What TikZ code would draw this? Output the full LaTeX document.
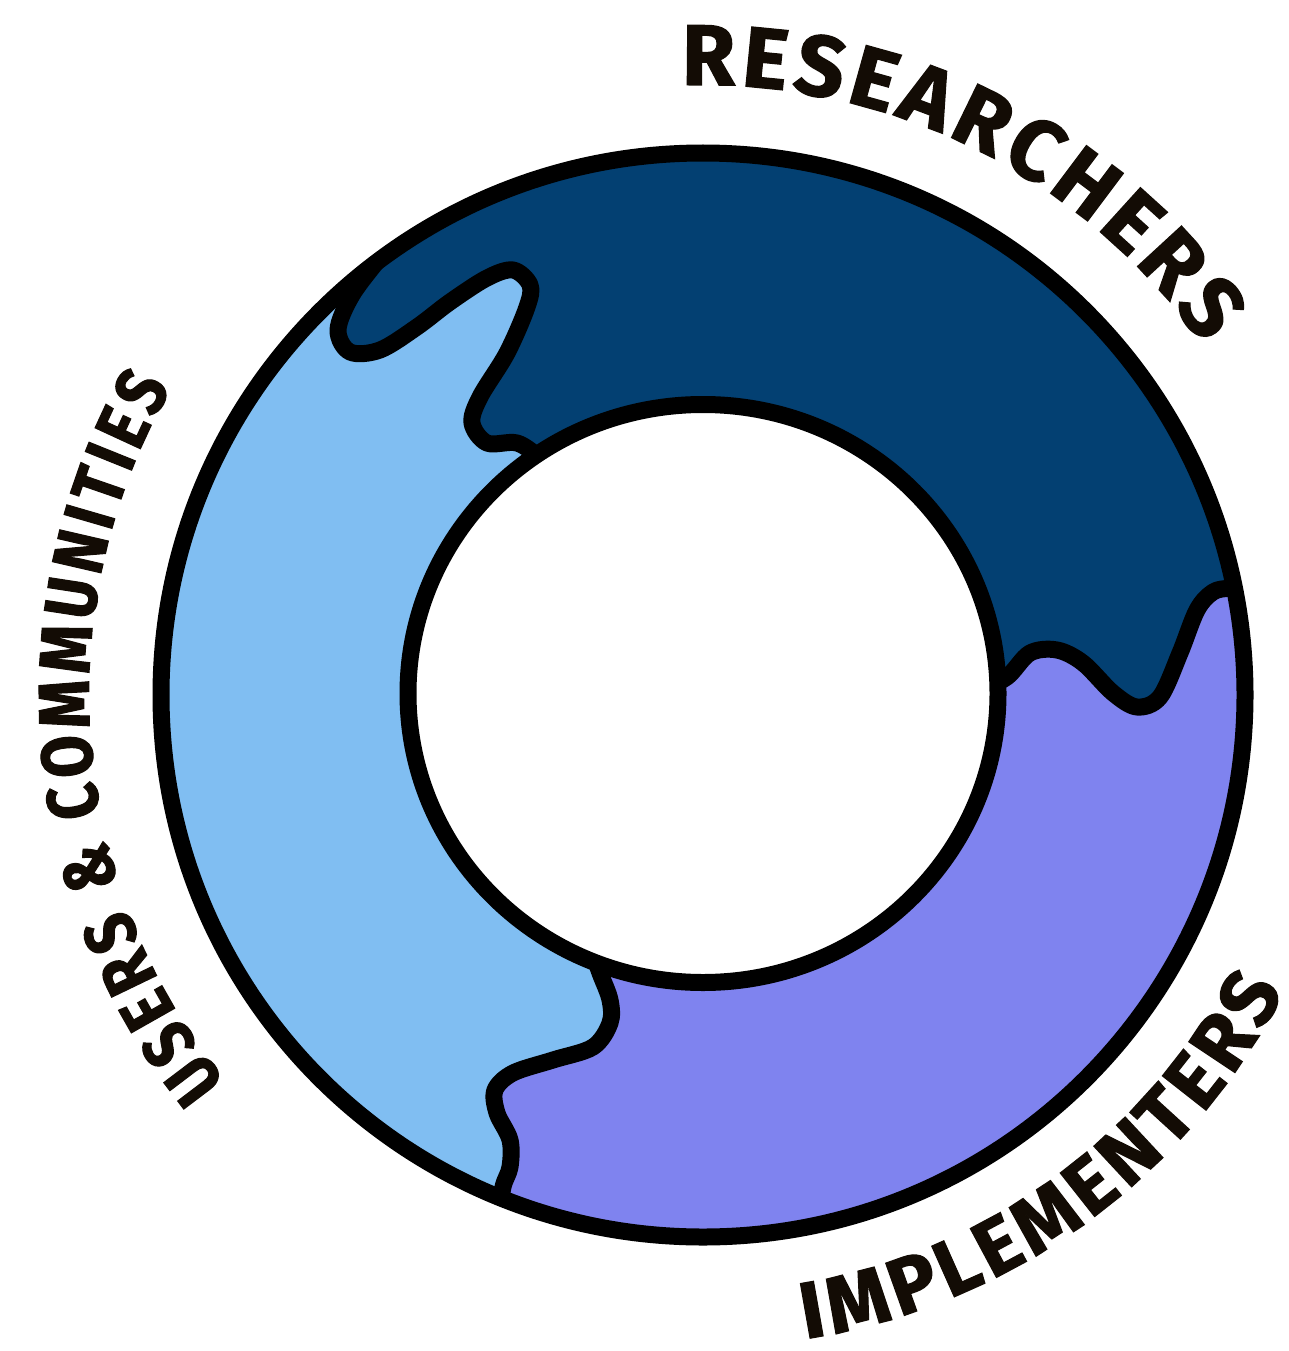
\documentclass[tikz,border=0pt]{standalone}
\usepackage{fontspec}
\newfontfamily\handfont{Fira Sans}[BoldFeatures={FakeBold=1.5}]
\newfontfamily\handnarrow{Fira Sans}[FakeStretch=0.85, BoldFeatures={FakeBold=1.5}]
\usetikzlibrary{decorations.text}
\definecolor{navy}{HTML}{034072}
\definecolor{sky}{HTML}{80BEF2}
\definecolor{peri}{HTML}{7F83EF}
\definecolor{ink}{HTML}{130C05}
\tikzset{
  ringline/.style={line width=17pt, draw=black, line cap=round, line join=round},
  arctext/.style={decorate, decoration={text along path, text align={fit to path}, text color=ink, text={#1}}},
}
\begin{document}
\begin{tikzpicture}[x=1pt,y=-1pt]
\useasboundingbox (0,0) rectangle (1288,1351);
\coordinate (c) at (703,695);
\coordinate (ci) at (703,693.5);
\begin{scope}
  \clip (c) circle[radius=542pt];
  \fill[peri] (c) circle[radius=560pt];
  % dark region
  \fill[navy] (c) -- (560,475) -- plot[smooth, tension=0.55] coordinates {(560,475) (540,458) (517,443) (487,443) (472,423) (480,397) (507,353) (527,307) (530,285) (513,270) (487,278) (450,302) (417,327) (380,350) (350,352) (338,330) (352,295) (382,255) (404,226)}
    -- (420,100) -- (900,60) -- (1300,300) -- (1330,560) -- (1255,585)
    -- plot[smooth, tension=0.55] coordinates {(1255,585) (1230,588) (1213,592) (1197,610) (1180,653) (1160,697) (1137,707) (1113,693) (1083,663) (1057,650) (1030,653) (1007,677) (980,690)}
    -- cycle;
  % light region
  \fill[sky] (c) -- (590,945) -- plot[smooth, tension=0.55] coordinates {(590,945) (600,973) (610,1000) (610,1023) (593,1047) (553,1060) (513,1073) (495,1090) (497,1113) (510,1140) (510,1167) (503,1187) (497,1225)}
    -- (480,1360) -- (-100,1100) -- (-100,300) -- (250,150) -- (404,226)
    -- plot[smooth, tension=0.55] coordinates {(404,226) (382,255) (352,295) (338,330) (350,352) (380,350) (417,327) (450,302) (487,278) (513,270) (530,285) (527,307) (507,353) (480,397) (472,423) (487,443) (517,443) (540,458) (560,475)}
    -- cycle;
  % boundaries
  \draw[ringline] plot[smooth, tension=0.55] coordinates {(404,226) (382,255) (352,295) (338,330) (350,352) (380,350) (417,327) (450,302) (487,278) (513,270) (530,285) (527,307) (507,353) (480,397) (472,423) (487,443) (517,443) (540,458) (560,475)};
  \draw[ringline] plot[smooth, tension=0.55] coordinates {(980,690) (1007,677) (1030,653) (1057,650) (1083,663) (1113,693) (1137,707) (1160,697) (1180,653) (1197,610) (1213,592) (1230,588) (1255,585)};
  \draw[ringline] plot[smooth, tension=0.55] coordinates {(590,945) (600,973) (610,1000) (610,1023) (593,1047) (553,1060) (513,1073) (495,1090) (497,1113) (510,1140) (510,1167) (503,1187) (497,1225)};
\end{scope}
\draw[ringline] (c) circle[radius=542pt];
\fill[white] (ci) ellipse[x radius=295pt, y radius=289pt];
\draw[ringline] (ci) ellipse[x radius=295pt, y radius=289pt];
% labels
\path[arctext={|\handfont\bfseries\fontsize{86pt}{90pt}\selectfont|RESEARCHERS}]
  ([shift={(92:610pt)}]c) arc[start angle=92, end angle=35, radius=610pt];
\path[arctext={|\handfont\bfseries\fontsize{80pt}{90pt}\selectfont|IMPLEMENTERS}]
  ([shift={(-81:652pt)}]c) arc[start angle=-81, end angle=-27, radius=652pt];
\path[arctext={|\handnarrow\bfseries\fontsize{72pt}{90pt}\selectfont|USERS {\&} COMMUNITIES}]
  ([shift={(219:614pt)}]c) arc[start angle=219, end angle=150, radius=614pt];
\end{tikzpicture}
\end{document}
